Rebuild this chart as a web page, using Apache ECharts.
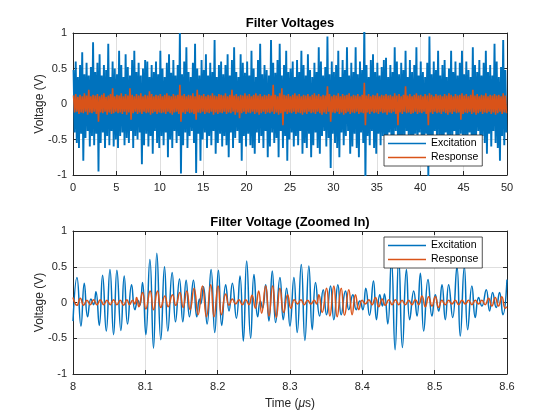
<!DOCTYPE html>
<html>
<head>
<meta charset="utf-8">
<script src="https://cdn.jsdelivr.net/npm/echarts@6/dist/echarts.min.js"></script>
<style>html,body{margin:0;padding:0;background:#fff}#c{width:560px;height:420px}</style>
</head>
<body>
<div id="c"></div>
<script>
// ---------- DATA ----------
const seriesNames = ['Excitation', 'Response'];
const topXTicks = [0, 5, 10, 15, 20, 25, 30, 35, 40, 45, 50];
const zoomXTicks = [8, 8.1, 8.2, 8.3, 8.4, 8.5, 8.6];
const yTicks = [-1, -0.5, 0, 0.5, 1];
const topStep = 0.25; // us per envelope interval

// top plot: per-interval peak (high) and trough (low, magnitude) in hundredths of a volt
const topExcHigh = [48,60,38,55,73,42,58,40,52,87, 45,58,70,40,55,48,85,38,60,50,
  42,75,55,38,70,52,40,62,75,45, 58,40,50,62,60,38,55,45,60,42,
  75,50,38,58,70,44,62,40,55,100, 42,60,80,45,38,58,85,50,40,62,
  48,70,40,58,45,90,38,55,60,42, 55,70,40,62,80,45,38,70,58,44,
  60,40,75,50,38,62,85,42,55,48, 40,90,58,44,62,85,40,55,75,45,
  50,60,38,62,45,75,55,40,70,48, 38,58,45,80,60,40,52,95,42,60,
  45,55,75,38,62,48,80,40,58,45, 80,42,60,48,115,55,38,62,70,45,
  58,40,52,62,65,38,55,45,80,60, 42,58,48,75,38,62,45,55,80,40,
  60,45,38,58,95,42,60,48,75,40, 55,62,38,50,75,45,60,40,58,75,
  42,60,48,38,80,55,45,62,40,58, 75,45,55,40,85,60,38,52,90,48];
const topExcLow = [40,55,62,42,80,48,38,60,45,58, 42,95,55,40,62,45,58,38,60,50,
  62,45,40,58,48,55,38,62,45,50, 40,85,58,42,60,45,70,38,55,62,
  45,58,40,75,50,62,38,55,45,98, 58,40,62,45,38,55,97,42,80,50,
  40,62,45,58,38,70,55,42,60,45, 58,75,40,62,48,38,55,80,45,60,
  42,58,62,70,40,55,45,62,38,75, 60,40,55,48,75,38,62,45,80,50,
  40,60,45,58,38,70,55,62,42,75, 58,40,62,70,45,38,60,48,90,42,
  55,62,75,40,58,45,38,70,60,42, 62,75,40,55,110,45,58,38,62,70,
  42,58,45,62,80,40,55,60,38,52, 70,45,60,38,58,48,75,42,62,40,
  55,60,42,105,48,62,38,55,45,60, 80,40,58,45,62,38,75,55,42,60,
  45,62,40,58,70,48,38,60,45,55, 70,42,60,38,55,62,80,45,58,40];
const topRespHigh = [12,14,10,13,11,15,12,20,11,13, 12,14,11,13,15,10,12,14,22,11,
  13,12,15,11,14,12,22,13,11,14, 12,15,11,13,12,18,14,11,13,12,
  14,11,13,15,12,11,14,12,13,27, 12,14,11,13,12,15,11,20,13,12,
  14,11,13,12,15,12,11,14,13,12, 15,11,13,20,12,14,11,13,12,15,
  12,14,11,13,15,12,14,11,13,12, 14,12,27,13,11,15,22,13,12,14,
  11,13,15,12,14,11,13,12,14,11, 13,15,12,14,11,13,12,25,14,11,
  13,12,15,11,14,12,13,15,11,13, 12,14,11,13,30,12,14,11,13,12,
  15,11,13,12,14,12,13,11,15,12, 14,11,13,25,12,14,11,13,15,12,
  13,11,14,12,15,13,11,14,12,13, 11,14,12,15,13,11,14,12,13,15,
  12,14,11,13,20,12,14,11,13,12, 15,11,13,12,14,12,13,11,15,12];
const topRespLow = [12,11,14,12,13,11,15,12,13,11, 14,25,12,13,11,15,12,14,13,11,
  13,12,14,11,15,12,22,13,11,14, 12,14,11,13,12,15,13,11,14,12,
  13,12,14,11,13,15,12,11,14,25, 12,14,11,13,12,14,22,12,13,11,
  14,12,13,11,15,12,14,12,13,11, 14,12,13,11,15,12,20,13,11,14,
  12,13,11,14,12,15,13,11,14,12, 13,11,14,12,15,13,30,11,14,12,
  13,11,14,12,13,15,12,14,11,13, 12,14,11,13,15,12,14,11,25,12,
  13,11,14,12,15,13,11,14,12,13, 11,14,12,13,30,12,14,11,13,12,
  14,11,13,12,15,12,13,11,14,30, 12,14,11,13,12,14,13,11,14,12,
  13,11,14,30,12,14,11,13,12,14, 11,13,15,12,14,11,13,12,22,14,
  12,13,11,14,12,15,13,11,14,12, 13,11,14,12,15,13,11,14,12,13];

// zoomed plot: [time (us), voltage (V)] at the waveform's turning points
const zoomExcitation = [[8.0000,-0.26],[8.0055,0.35],[8.0110,-0.33],[8.0156,0.27],[8.0202,-0.2],[8.0248,0.05],[8.0285,-0.03],[8.0317,0.15],[8.0363,-0.32],[8.0409,0.38],[8.0460,-0.4],[8.0511,0.46],[8.0561,-0.45],[8.0607,0.45],[8.0662,-0.39],[8.0708,0.37],[8.0754,-0.3],[8.0810,0.25],[8.0856,-0.1],[8.0897,0.03],[8.0925,-0.04],[8.0961,0.28],[8.1007,-0.45],[8.1063,0.6],[8.1113,-0.64],[8.1159,0.69],[8.1214,-0.52],[8.1265,0.5],[8.1311,-0.4],[8.1371,0.42],[8.1417,-0.27],[8.1472,0.33],[8.1518,-0.27],[8.1564,0.31],[8.1610,-0.2],[8.1665,0.31],[8.1711,-0.2],[8.1748,0.05],[8.1766,-0.02],[8.1803,0.22],[8.1854,-0.3],[8.1909,0.46],[8.1960,-0.42],[8.2010,0.45],[8.2056,-0.32],[8.2111,0.25],[8.2157,-0.12],[8.2203,0.27],[8.2259,-0.22],[8.2309,0.37],[8.2355,-0.54],[8.2401,0.58],[8.2456,-0.5],[8.2502,0.39],[8.2553,-0.2],[8.2590,0.02],[8.2622,-0.08],[8.2663,0.25],[8.2709,-0.26],[8.2755,0.44],[8.2801,-0.28],[8.2861,0.35],[8.2907,-0.24],[8.2953,0.2],[8.2999,-0.33],[8.3054,0.35],[8.3100,-0.42],[8.3156,0.53],[8.3206,-0.53],[8.3261,0.51],[8.3307,-0.38],[8.3353,0.28],[8.3409,-0.19],[8.3459,0.18],[8.3505,-0.17],[8.3560,0.23],[8.3606,-0.24],[8.3662,0.25],[8.3708,-0.17],[8.3767,0.16],[8.3813,-0.1],[8.3869,0.11],[8.3915,-0.1],[8.3965,0.02],[8.4007,-0.1],[8.4048,0.2],[8.4099,-0.18],[8.4154,0.3],[8.4195,-0.24],[8.4241,0.11],[8.4278,-0.05],[8.4306,0.12],[8.4352,-0.3],[8.4402,0.6],[8.4453,-0.66],[8.4503,0.62],[8.4554,-0.63],[8.4609,0.46],[8.4655,-0.24],[8.4710,0.16],[8.4756,-0.19],[8.4802,0.41],[8.4848,-0.4],[8.4908,0.32],[8.4963,-0.19],[8.5009,0.11],[8.5055,-0.12],[8.5101,0.25],[8.5147,-0.24],[8.5193,0.25],[8.5249,-0.21],[8.5308,0.5],[8.5354,-0.47],[8.5410,0.5],[8.5456,-0.38],[8.5515,0.23],[8.5561,-0.21],[8.5607,0.07],[8.5653,-0.05],[8.5713,0.18],[8.5759,-0.12],[8.5801,0.14],[8.5851,-0.07],[8.5897,0.14],[8.5943,-0.17],[8.6000,0.32]];
const zoomResponse = [[8.0000,0.07],[8.0055,-0.04],[8.0101,0.06],[8.0147,-0.04],[8.0193,0.03],[8.0239,-0.03],[8.0285,0.04],[8.0331,-0.03],[8.0377,0.04],[8.0423,-0.03],[8.0469,0.03],[8.0515,-0.03],[8.0561,0.04],[8.0607,-0.03],[8.0653,0.03],[8.0699,-0.04],[8.0745,0.04],[8.0782,-0.03],[8.0823,0.03],[8.0856,-0.02],[8.0879,0.07],[8.0911,-0.06],[8.0961,0.14],[8.1007,-0.09],[8.1067,0.16],[8.1113,-0.1],[8.1168,0.16],[8.1214,-0.07],[8.1270,0.09],[8.1316,-0.06],[8.1375,0.11],[8.1421,-0.04],[8.1477,0.14],[8.1523,-0.07],[8.1573,0.16],[8.1619,-0.1],[8.1674,0.2],[8.1730,-0.17],[8.1789,0.23],[8.1845,-0.2],[8.1904,0.25],[8.1950,-0.2],[8.2006,0.23],[8.2052,-0.17],[8.2111,0.12],[8.2157,-0.04],[8.2203,0.05],[8.2249,-0.02],[8.2295,0.04],[8.2341,-0.03],[8.2387,0.04],[8.2433,-0.03],[8.2475,0.1],[8.2521,-0.08],[8.2567,0.16],[8.2608,-0.15],[8.2663,0.23],[8.2709,-0.19],[8.2760,0.23],[8.2811,-0.21],[8.2861,0.2],[8.2912,-0.14],[8.2967,0.11],[8.3013,-0.08],[8.3059,0.04],[8.3105,-0.02],[8.3151,0.04],[8.3197,-0.03],[8.3243,0.03],[8.3289,-0.02],[8.3335,0.03],[8.3367,-0.02],[8.3399,0.11],[8.3445,-0.14],[8.3505,0.2],[8.3551,-0.19],[8.3606,0.23],[8.3652,-0.2],[8.3708,0.2],[8.3754,-0.18],[8.3813,0.18],[8.3859,-0.17],[8.3905,0.11],[8.3951,-0.1],[8.3997,0.03],[8.4043,-0.02],[8.4089,0.04],[8.4135,-0.03],[8.4181,0.07],[8.4227,-0.06],[8.4273,0.05],[8.4319,-0.04],[8.4365,0.04],[8.4411,-0.03],[8.4457,0.04],[8.4503,-0.03],[8.4549,0.03],[8.4595,-0.03],[8.4641,0.03],[8.4687,-0.03],[8.4733,0.04],[8.4779,-0.03],[8.4825,0.09],[8.4871,-0.06],[8.4917,0.08],[8.4963,-0.05],[8.5009,0.08],[8.5055,-0.07],[8.5101,0.03],[8.5147,-0.03],[8.5193,0.03],[8.5239,-0.02],[8.5285,0.03],[8.5331,-0.03],[8.5377,0.03],[8.5423,-0.02],[8.5469,0.03],[8.5515,-0.03],[8.5561,0.03],[8.5607,-0.02],[8.5653,0.03],[8.5699,-0.03],[8.5745,0.06],[8.5791,-0.05],[8.5837,0.07],[8.5883,-0.05],[8.5929,0.08],[8.5975,-0.08],[8.6000,-0.06]];

// ---------- BUILD ----------
function envelope(highs, lows, step) {
  const out = [];
  for (let i = 0; i < highs.length; i++) {
    out.push([i * step + step * 0.25, highs[i] / 100]);
    out.push([i * step + step * 0.75, -lows[i] / 100]);
  }
  return out;
}
const FONT = 'Liberation Sans, Arial, Helvetica, sans-serif';
const AX = '#262626', GRIDC = '#dfdfdf';
const C_EXC = '#0072BD', C_RESP = '#D95319';

function xAx(grid, ticks, pos, main) {
  const iv = +(ticks[1] - ticks[0]).toFixed(6);
  return {
    type: 'value', gridIndex: grid, position: pos,
    min: ticks[0], max: ticks[ticks.length - 1], interval: iv,
    axisLine: { show: true, onZero: false, lineStyle: { color: AX, width: 1 } },
    axisTick: { show: true, inside: true, length: 4, lineStyle: { color: AX } },
    axisLabel: { show: main, margin: 7, color: AX, fontSize: 11, fontFamily: FONT,
      formatter: v => String(+v.toFixed(4)) },
    splitLine: { show: main, lineStyle: { color: GRIDC, width: 1 } }
  };
}
function yAx(grid, pos, main) {
  return {
    type: 'value', gridIndex: grid, position: pos,
    min: yTicks[0], max: yTicks[yTicks.length - 1], interval: yTicks[1] - yTicks[0],
    axisLine: { show: true, onZero: false, lineStyle: { color: AX, width: 1 } },
    axisTick: { show: true, inside: true, length: 4, lineStyle: { color: AX } },
    axisLabel: { show: main, margin: 6, color: AX, fontSize: 11, fontFamily: FONT },
    splitLine: { show: main, lineStyle: { color: GRIDC, width: 1 } },
    name: main ? 'Voltage (V)' : '', nameLocation: 'middle', nameGap: 27,
    nameMoveOverlap: false,
    nameTextStyle: { color: AX, fontSize: 12, fontFamily: FONT }
  };
}
const xAxes = [xAx(0, topXTicks, 'bottom', true), xAx(0, topXTicks, 'top', false),
               xAx(1, zoomXTicks, 'bottom', true), xAx(1, zoomXTicks, 'top', false)];
xAxes[2].name = '{n|Time (}{i|\u03bc}{n|s)}';
xAxes[2].nameLocation = 'middle';
xAxes[2].nameGap = 24;
xAxes[2].nameMoveOverlap = false;
xAxes[2].nameTextStyle = { rich: { n: { color: AX, fontSize: 12, fontFamily: FONT },
  i: { color: AX, fontSize: 12, fontFamily: FONT, fontStyle: 'italic' } } };
const yAxes = [yAx(0, 'left', true), yAx(0, 'right', false), yAx(1, 'left', true), yAx(1, 'right', false)];

function legendAt(top) {
  return {
    left: 384, top: top, orient: 'vertical', data: seriesNames, icon: 'rect',
    itemWidth: 38, itemHeight: 1.5, itemGap: 3, padding: [3, 4, 3, 4],
    borderColor: AX, borderWidth: 0.8, backgroundColor: '#fff', borderRadius: 0,
    selectedMode: false, textStyle: { color: '#000', fontSize: 10.5, fontFamily: FONT }
  };
}
function lineSeries(name, color, xi, data, width, smooth) {
  return { name: name, type: 'line', xAxisIndex: xi, yAxisIndex: xi, data: data,
    showSymbol: false, symbol: 'none', smooth: smooth, sampling: null,
    lineStyle: { color: color, width: width }, itemStyle: { color: color },
    animation: false, clip: true };
}

const chart = echarts.init(document.getElementById('c'), null, { renderer: 'canvas' });
chart.setOption({
  animation: false,
  backgroundColor: '#fff',
  title: [
    { text: 'Filter Voltages', left: 290, top: 17, textAlign: 'center', padding: 0,
      textStyle: { fontSize: 13, fontWeight: 'bold', color: '#000', fontFamily: FONT } },
    { text: 'Filter Voltage (Zoomed In)', left: 290, top: 216, textAlign: 'center', padding: 0,
      textStyle: { fontSize: 13, fontWeight: 'bold', color: '#000', fontFamily: FONT } }
  ],
  grid: [
    { left: 73, top: 33, width: 434, height: 142, containLabel: false },
    { left: 73, top: 231, width: 434, height: 143, containLabel: false }
  ],
  legend: [legendAt(135), legendAt(237)],
  xAxis: xAxes,
  yAxis: yAxes,
  series: [
    lineSeries('Excitation', C_EXC, 0, envelope(topExcHigh, topExcLow, topStep), 1.9, false),
    lineSeries('Response', C_RESP, 0, envelope(topRespHigh, topRespLow, topStep), 1.6, false),
    lineSeries('Excitation', C_EXC, 2, zoomExcitation, 1.5, 0.5),
    lineSeries('Response', C_RESP, 2, zoomResponse, 1.5, 0.5)
  ]
});
</script>
</body>
</html>
